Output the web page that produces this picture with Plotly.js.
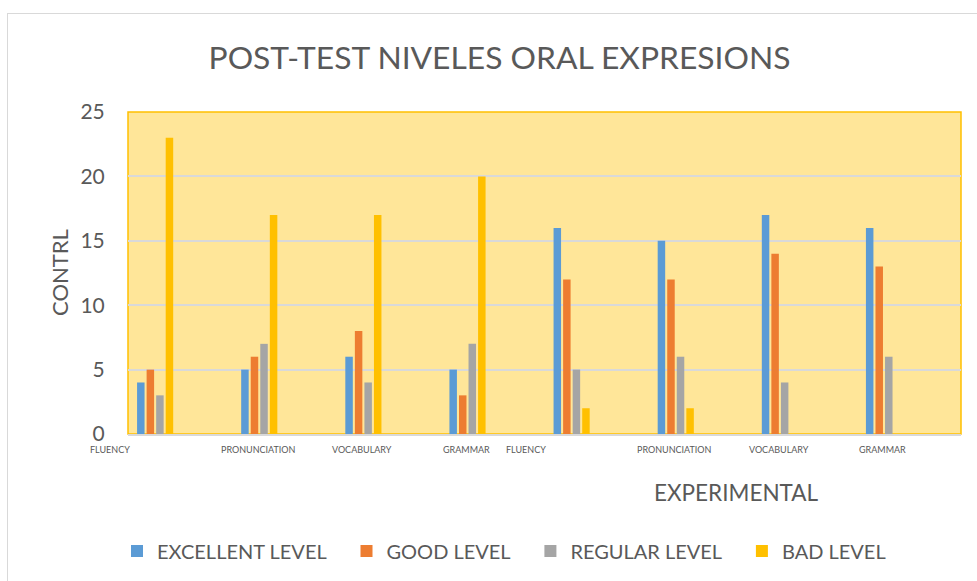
<!DOCTYPE html>
<html>
<head>
<meta charset="utf-8">
<script src="https://cdn.plot.ly/plotly-3.0.1.min.js"></script>
<style>
  html, body { margin: 0; padding: 0; overflow: hidden; background: #ffffff; width: 977px; height: 581px; }
  #frame { position: absolute; left: 7px; top: 13px; width: 1000px; height: 600px; border: 1px solid #D9D9D9; }
  #chart { width: 1000px; height: 600px; }
</style>
</head>
<body>
<div id="frame"><div id="chart"></div></div>
<script>
// ---- data ----
const categories = ['FLUENCY', 'PRONUNCIATION', 'VOCABULARY', 'GRAMMAR',
                    'FLUENCY', 'PRONUNCIATION', 'VOCABULARY', 'GRAMMAR'];
const seriesNames = ['EXCELLENT LEVEL', 'GOOD LEVEL', 'REGULAR LEVEL', 'BAD LEVEL'];
const excellent = [4, 5, 6, 5, 16, 15, 17, 16];
const good      = [5, 6, 8, 3, 12, 12, 14, 13];
const regular   = [3, 7, 4, 7, 5, 6, 4, 6];
const bad       = [23, 17, 17, 20, 2, 2, 0, 0];
const yTicks    = [0, 5, 10, 15, 20, 25];
const chartTitle = 'POST-TEST NIVELES ORAL EXPRESIONS';
const yTitle = 'CONTRL';
const xTitle = 'EXPERIMENTAL';

// ---- styling ----
const colors = ['#5B9BD5', '#ED7D31', '#A5A5A5', '#FFC000'];
const textColor = '#595959';
const FONT = 'Lato, "Open Sans", sans-serif';
const barWidth = 0.072;
const firstOffset = 0.087;
const barStep = 0.0917;
const labelShift = [-0.173, 0.258, 0.25, 0.25, -0.173, 0.25, 0.25, 0.25];
const legendPad = '\u00a0\u00a0\u00a0';

const xIdx = categories.map((c, i) => i);
const values = [excellent, good, regular, bad];
const nCat = categories.length;

const traces = values.map((vals, k) => ({
  type: 'bar',
  name: seriesNames[k] + (k < values.length - 1 ? legendPad : ''),
  x: xIdx,
  y: vals,
  offset: firstOffset + k * barStep,
  width: barWidth,
  marker: { color: colors[k], line: { width: 0 } },
  hoverinfo: 'x+y+name'
}));

const annotations = categories.map((c, i) => ({
  text: c, xref: 'paper', yref: 'paper', x: (i + labelShift[i]) / nCat, y: 0,
  xanchor: 'center', yanchor: 'middle', yshift: -15, showarrow: false,
  font: { family: FONT, size: 9, color: textColor }
}));
annotations.push({
  text: yTitle, xref: 'paper', yref: 'paper', x: 0, y: 0.5, xshift: -69,
  xanchor: 'center', yanchor: 'middle', textangle: -90, showarrow: false,
  font: { family: FONT, size: 22, color: textColor }
});
annotations.push({
  text: xTitle, xref: 'paper', yref: 'paper', x: 0.731, y: 0, yshift: -58,
  xanchor: 'center', yanchor: 'middle', showarrow: false,
  font: { family: FONT, size: 22.5, color: textColor }
});

const layout = {
  width: 1000, height: 600,
  margin: { l: 120, r: 47, t: 98, b: 180 },
  paper_bgcolor: '#FFFFFF',
  plot_bgcolor: '#FFE699',
  barmode: 'overlay',
  title: {
    text: chartTitle, xref: 'container', yref: 'container',
    x: 0.4915, y: 0.9267, xanchor: 'center', yanchor: 'middle',
    font: { family: FONT, size: 31.8, color: textColor }
  },
  xaxis: {
    range: [0, nCat], showticklabels: false, showgrid: false, zeroline: false,
    showline: true, linecolor: '#D9D9D9', linewidth: 2, ticks: '', fixedrange: true
  },
  yaxis: {
    range: [0, 25], tickvals: yTicks, ticktext: yTicks.map(String),
    showgrid: true, gridcolor: '#D9D9D9', gridwidth: 2, zeroline: false,
    showline: false, ticks: 'outside', ticklen: 18, tickcolor: 'rgba(0,0,0,0)',
    tickfont: { family: FONT, size: 21, color: textColor }, fixedrange: true
  },
  legend: {
    orientation: 'h', xref: 'container', yref: 'container',
    x: 0.109, y: 0.105, xanchor: 'left', yanchor: 'middle',
    font: { family: FONT, size: 20, color: textColor },
    bgcolor: 'rgba(0,0,0,0)', traceorder: 'normal'
  },
  shapes: [{
    type: 'rect', xref: 'paper', yref: 'paper', x0: 0, x1: 1, y0: 0, y1: 1,
    line: { color: '#FFC000', width: 1.5 }, fillcolor: 'rgba(0,0,0,0)', layer: 'between'
  }],
  annotations: annotations,
  showlegend: true
};

Plotly.newPlot('chart', traces, layout, { displayModeBar: false, staticPlot: true });
</script>
</body>
</html>
